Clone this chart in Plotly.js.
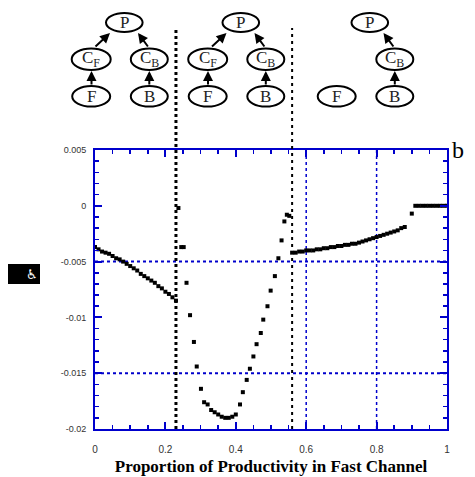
<!DOCTYPE html>
<html>
<head>
<meta charset="utf-8">
<script src="https://cdn.plot.ly/plotly-3.0.1.min.js"></script>
<style>html,body{margin:0;padding:0;background:#fff;}#chart{width:475px;height:477px;}</style>
</head>
<body>
<div id="chart"></div>
<script>
// ---- data ----
const leftX = [0.00,0.01,0.02,0.03,0.04,0.05,0.06,0.07,0.08,0.09,0.10,0.11,0.12,0.13,0.14,0.15,0.16,0.17,0.18,0.19,0.20,0.21,0.22,0.23];
const leftY = [-0.0037,-0.0039,-0.0041,-0.0042,-0.0043,-0.0045,-0.0047,-0.0048,-0.0050,-0.0052,-0.0054,-0.0056,-0.0058,-0.0061,-0.0063,-0.0065,-0.0067,-0.0069,-0.0072,-0.0074,-0.0077,-0.0079,-0.0082,-0.0085];
const dipX = [0.237,0.245,0.252,0.26,0.27,0.281,0.289,0.301,0.31,0.32,0.33,0.34,0.35,0.36,0.37,0.38,0.39,0.40,0.412,0.42,0.431,0.44,0.45,0.459,0.471,0.478,0.49,0.499,0.511,0.521,0.53,0.538,0.545,0.552];
const dipY = [-0.0002,-0.0037,-0.0037,-0.0069,-0.0098,-0.0122,-0.0144,-0.0164,-0.0176,-0.0178,-0.0183,-0.0185,-0.0187,-0.0189,-0.0190,-0.0190,-0.0189,-0.0187,-0.0178,-0.0167,-0.0156,-0.0146,-0.0135,-0.0124,-0.0114,-0.0102,-0.0090,-0.0076,-0.0063,-0.0047,-0.0031,-0.0014,-0.0008,-0.0009];
const rightX = [0.56,0.57,0.58,0.59,0.60,0.61,0.62,0.63,0.64,0.65,0.66,0.67,0.68,0.69,0.70,0.71,0.72,0.73,0.74,0.75,0.76,0.77,0.78,0.79,0.80,0.81,0.82,0.83,0.84,0.85,0.86,0.87,0.88,0.90,0.91,0.92,0.93,0.94,0.95,0.96,0.97,0.98,0.99,1.00];
const rightY = [-0.0042,-0.0042,-0.0041,-0.0041,-0.0040,-0.0040,-0.0040,-0.0039,-0.0039,-0.0038,-0.0038,-0.0037,-0.0037,-0.0036,-0.0036,-0.0035,-0.0035,-0.0034,-0.0034,-0.0033,-0.0032,-0.0031,-0.0030,-0.0029,-0.0028,-0.0027,-0.0026,-0.0025,-0.0024,-0.0023,-0.0022,-0.0020,-0.0019,-0.0007,0,0,0,0,0,0,0,0,0,0];
const xTickVals = [0,0.2,0.4,0.6,0.8,1];
const xTickText = ["0","0.2","0.4","0.6","0.8","1"];
const yTickVals = [0.005,0,-0.005,-0.01,-0.015,-0.02];
const yTickText = ["0.005","0","-0.005","-0.01","-0.015","-0.02"];
const boundaries = [0.23, 0.56];
const gridX = [0.6, 0.8];
const gridY = [-0.005, -0.015];
const xTitle = "Proportion of Productivity in Fast Channel";

// ---- geometry helpers (plot area: 95..447 x 150..429 px) ----
const L=95, R=447, T=150, B=429;
const px = v => (v-L)/(R-L);
const py = v => (B-v)/(B-T);
const BLUE = '#0000CC';

const mk = {symbol:'square', size:4, color:'#000'};
const traces = [
  {x:leftX, y:leftY, mode:'markers', type:'scatter', marker:mk, hoverinfo:'skip'},
  {x:dipX, y:dipY, mode:'markers', type:'scatter', marker:mk, hoverinfo:'skip'},
  {x:rightX, y:rightY, mode:'markers', type:'scatter', marker:mk, hoverinfo:'skip'}
];

const shapes = [];
const annotations = [];
gridX.forEach(v => shapes.push({type:'line', xref:'x', yref:'paper', x0:v, x1:v, y0:0, y1:1, layer:'below', line:{color:BLUE, width:1.5, dash:'dot'}}));
gridY.forEach(v => shapes.push({type:'line', xref:'paper', yref:'y', x0:0, x1:1, y0:v, y1:v, layer:'below', line:{color:BLUE, width:2, dash:'dot'}}));
shapes.push({type:'line', xref:'x', yref:'paper', x0:boundaries[0], x1:boundaries[0], y0:0, y1:py(28), line:{color:'#000', width:3, dash:'3px,3px'}});
shapes.push({type:'line', xref:'x', yref:'paper', x0:boundaries[1], x1:boundaries[1], y0:0, y1:py(28), line:{color:'#000', width:2, dash:'3px,4px'}});

// tree diagrams
function node(cx, cy, label, rx, ry){
  shapes.push({type:'circle', xref:'paper', yref:'paper', x0:px(cx-rx), x1:px(cx+rx), y0:py(cy+ry), y1:py(cy-ry), line:{color:'#000', width:2}, fillcolor:'rgba(0,0,0,0)'});
  annotations.push({xref:'paper', yref:'paper', x:px(cx), y:py(cy), text:label, showarrow:false, xanchor:'center', yanchor:'middle', font:{family:'Liberation Serif, Times New Roman, serif', size:17, color:'#222'}});
}
function arrow(tx, ty, hx, hy){
  annotations.push({xref:'paper', yref:'paper', x:px(hx), y:py(hy), ax:tx-hx, ay:ty-hy, text:'', showarrow:true, arrowhead:2, arrowsize:1, arrowwidth:2, arrowcolor:'#000'});
}
function tree(off, withLeft){
  node(124.3+off, 22.5, 'P', 18.3, 9.5);
  if (withLeft) {
    node(91.2+off, 59.2, 'C<sub>F</sub>', 19.5, 10.8);
    arrow(94+off, 48, 110+off, 33);
    arrow(91.5+off, 86, 91.5+off, 71);
  }
  node(149.3+off, 59.2, 'C<sub>B</sub>', 18.5, 10.8);
  node(91.2+off, 96.3, 'F', 19, 10.3);
  node(149.3+off, 96.3, 'B', 18.5, 10.3);
  arrow(149+off, 48, 138+off, 33);
  arrow(149.3+off, 86, 149.3+off, 71);
}
tree(0, true);
tree(116.5, true);
tree(245.5, false);

// y-axis "title" glyph box and panel letter
shapes.push({type:'rect', xref:'paper', yref:'paper', x0:px(8), x1:px(40), y0:py(284), y1:py(264), fillcolor:'#000', line:{width:0}});
annotations.push({xref:'paper', yref:'paper', x:px(24), y:py(274), text:'♿', showarrow:false, font:{family:'DejaVu Sans', size:13, color:'#fff'}});
annotations.push({xref:'paper', yref:'paper', x:px(450), y:py(150), xanchor:'left', yanchor:'middle', text:'b', showarrow:false, font:{family:'Liberation Serif, Times New Roman, serif', size:24, color:'#000'}});

const axisCommon = {
  ticks:'inside', ticklen:7, tickwidth:2, tickcolor:BLUE,
  linecolor:BLUE, linewidth:2, mirror:'ticks', showgrid:false, zeroline:false,
  tickfont:{family:'Liberation Sans, Arial, sans-serif', size:9, color:'#333'}
};
const layout = {
  width:475, height:477,
  margin:{l:L, r:475-R, t:T, b:477-B, pad:0},
  paper_bgcolor:'#fff', plot_bgcolor:'#fff',
  showlegend:false,
  xaxis: Object.assign({}, axisCommon, {
    range:[0,1], tickmode:'array', tickvals:xTickVals, ticktext:xTickText,
    tickfont:{family:'Liberation Sans, Arial, sans-serif', size:10, color:'#333'},
    minor:{dtick:0.05, ticks:'inside', ticklen:4, tickwidth:1.5, tickcolor:BLUE, showgrid:false},
    ticklabelstandoff:10,
    title:{text:'<b>'+xTitle+'</b>', standoff:6, font:{family:'Liberation Serif, Times New Roman, serif', size:17, color:'#000'}}
  }),
  yaxis: Object.assign({}, axisCommon, {
    range:[-0.02,0.005], tickmode:'array', tickvals:yTickVals, ticktext:yTickText,
    minor:{dtick:0.001, ticks:'inside', ticklen:4, tickwidth:1.5, tickcolor:BLUE, showgrid:false},
    ticklabelstandoff:5
  }),
  shapes:shapes,
  annotations:annotations
};
Plotly.newPlot('chart', traces, layout, {staticPlot:true, displayModeBar:false});
</script>
</body>
</html>
